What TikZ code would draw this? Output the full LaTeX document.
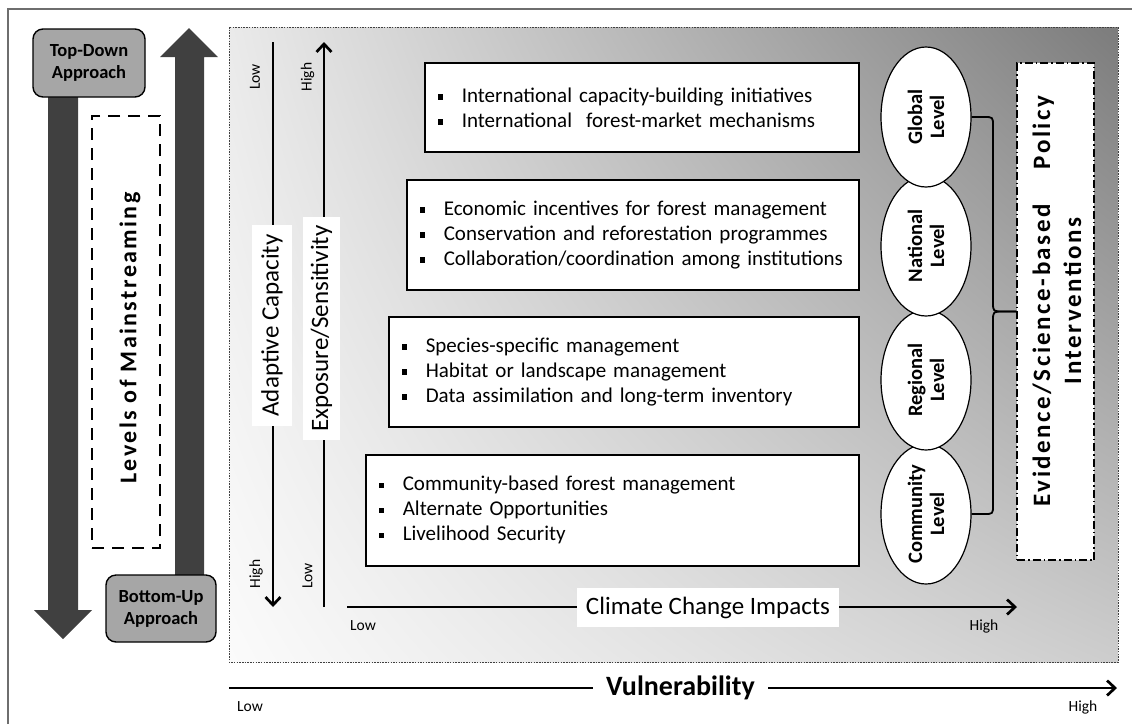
\documentclass[tikz,border=0pt]{standalone}
\usepackage{fontspec}
\setmainfont{Carlito}
\newfontfamily\spacedfont[LetterSpace=10]{Carlito}
\usetikzlibrary{arrows.meta,shapes.geometric,calc,shadings}

\definecolor{arrowgray}{HTML}{404040}
\definecolor{tabgray}{HTML}{A6A6A6}
\definecolor{framegray}{HTML}{6E6E6E}
\definecolor{shadeA}{HTML}{EAEAEA}
\definecolor{shadeB}{HTML}{7C7C7C}
\definecolor{shadeC}{HTML}{FBFBFB}
\definecolor{shadeD}{HTML}{CDCDCD}

\newcommand{\fsz}[2]{\fontsize{#1}{#2}\selectfont}
\newcommand{\sqb}{\makebox[24pt][l]{\rule[2.5pt]{5.5pt}{5.5pt}}}

\tikzset{
  listbox/.style={draw=black, line width=1.6pt, fill=white, rectangle,
    anchor=north west, inner xsep=13pt, inner ysep=0pt, align=left,
    font=\fsz{21}{25}},
  approach/.style={draw=black, line width=1.4pt, fill=tabgray,
    rounded corners=10pt, align=center, font=\bfseries\fsz{18.5}{22},
    inner sep=0pt},
  lvl/.style={ellipse, draw=black, line width=1.2pt, fill=white,
    minimum width=90pt, minimum height=140pt, inner sep=0pt},
  lvltext/.style={rotate=90, align=center, font=\bfseries\fsz{20.5}{22},
    inner sep=0pt},
  axislabel/.style={rotate=90, fill=white, inner sep=0pt, font=\fsz{25}{30}},
  small/.style={inner sep=0pt, font=\fsz{15.5}{18}},
  axisline/.style={line width=2.7pt, -{Straight Barb[length=8pt,width=15pt]}},
  bigarrow/.style={fill=arrowgray, draw=none},
}

\begin{document}
\begin{tikzpicture}[x=1pt, y=-1pt]
\useasboundingbox (0,0) rectangle (1132,724);
\fill[white] (0,0) rectangle (1132,724);

% outer frame
\draw[framegray, line width=1.5pt] (8,724) -- (8,9) -- (1132,9);

% shaded panel
\shade[upper left=shadeA, upper right=shadeB, lower left=shadeC, lower right=shadeD]
  (229,27) rectangle (1118,662);
\draw[black!75, line width=0.8pt, dash pattern=on 1.5pt off 1.2pt]
  (229,27) rectangle (1118,662);

% block arrows
\fill[bigarrow] (48,60) -- (78,60) -- (78,610) -- (92,610) -- (63,639)
  -- (34,610) -- (48,610) -- cycle;
\fill[bigarrow] (189,28) -- (218,57) -- (204,57) -- (204,600) -- (175,600)
  -- (175,57) -- (160,57) -- cycle;

\node[approach, minimum width=112pt, minimum height=68pt] (td) at (89,63)
  {Top-Down\\Approach};
\node[approach, minimum width=110pt, minimum height=67pt] (bu) at (161,608.5)
  {Bottom-Up\\Approach};

% levels of mainstreaming
\node[draw=black, line width=2.5pt, dash pattern=on 12pt off 8pt,
  minimum width=68pt, minimum height=432pt, inner sep=0pt] (lm) at (126,332) {};
\node[rotate=90, inner sep=0pt, font=\spacedfont\bfseries\fsz{24}{28}] (lmt)
  at (130,338) {Levels of Mainstreaming};

% vertical axes
\coordinate (ac0) at (273,42);
\coordinate (ac1) at (273,607);
\draw[axisline] (ac0) -- (ac1);
\coordinate (es0) at (324,607);
\coordinate (es1) at (324,42);
\draw[axisline] (es0) -- (es1);
\node[axislabel, minimum width=201pt, minimum height=40pt] (acl) at (272,325.5)
  {Adaptive Capacity};
\node[axislabel, minimum width=223pt, minimum height=37pt] (esl) at (321.5,328.5)
  {Exposure/Sensitivity};
\node[small, rotate=90] (acLow) at (255,77) {Low};
\node[small, rotate=90] (esHigh) at (307.5,77) {High};
\node[small, rotate=90] (acHigh) at (256,574) {High};
\node[small, rotate=90] (esLow) at (307.5,576) {Low};

% measure boxes
\node[listbox, text width=408pt, minimum height=89pt] (b1) at (424,62)
  {\sqb International capacity-building initiatives\\
   \sqb International\ \ forest-market mechanisms};
\node[listbox, text width=426pt, minimum height=110pt] (b2) at (406,179)
  {\sqb Economic incentives for forest management\\
   \sqb Conservation and reforestation programmes\\
   \sqb Collaboration/coordination among institutions};
\node[listbox, text width=444pt, minimum height=110pt] (b3) at (388,316)
  {\sqb Species-specific management\\
   \sqb Habitat or landscape management\\
   \sqb Data assimilation and long-term inventory};
\node[listbox, text width=467pt, minimum height=111pt] (b4) at (365,454)
  {\sqb Community-based forest management\\
   \sqb Alternate Opportunities\\
   \sqb Livelihood Security};

% levels of intervention
\node[lvl] (C) at (926,514) {};
\node[lvltext] (Ct) at (C) {Community\\Level};
\node[lvl] (R) at (926,380) {};
\node[lvltext] (Rt) at (R) {Regional\\Level};
\node[lvl] (N) at (926,246) {};
\node[lvltext] (Nt) at (N) {National\\Level};
\node[lvl] (G) at (926,117) {};
\node[lvltext] (Gt) at (G) {Global\\Level};

% evidence box
\node[draw=black, line width=1.2pt, fill=white,
  dash pattern=on 8pt off 3pt on 1.5pt off 3pt,
  minimum width=77pt, minimum height=497pt, inner sep=0pt] (E) at (1055.5,311.5) {};
\node[rotate=90, align=center, inner sep=0pt,
  font=\spacedfont\bfseries\fsz{25}{31}] (Et) at (1057,301)
  {Evidence/Science-based\hspace{35pt}Policy\\Interventions};

% brace joining the levels
\draw[line width=1.8pt, line join=round]
  (G.east) -- (984,117) .. controls (993,117) .. (993,126) -- (993,302)
  .. controls (993,311.5) .. (1003,311.5) -- (E.west);
\draw[line width=1.8pt, line join=round]
  (E.west) -- (1003,311.5) .. controls (993,311.5) .. (993,321) -- (993,505)
  .. controls (993,514) .. (984,514) -- (C.east);

% climate change impacts axis
\coordinate (cc0) at (347,607);
\coordinate (cc1) at (1017,607);
\draw[axisline] (cc0) -- (cc1);
\node[fill=white, inner sep=0pt, minimum width=262pt, minimum height=39pt,
  font=\fsz{25}{30}] (ccl) at (708,607.5) {Climate Change Impacts};
\node[small] (ccLow) at (363,626) {Low};
\node[small] (ccHigh) at (984,626) {High};

% vulnerability axis
\coordinate (v0) at (229,688);
\coordinate (v1) at (1117,688);
\draw[axisline] (v0) -- (v1);
\node[fill=white, inner sep=0pt, minimum width=175pt, minimum height=34pt,
  font=\bfseries\fsz{28}{32}] (vl) at (680.5,688) {Vulnerability};
\node[small] (vLow) at (250,707) {Low};
\node[small] (vHigh) at (1083,707) {High};
\end{tikzpicture}
\end{document}
